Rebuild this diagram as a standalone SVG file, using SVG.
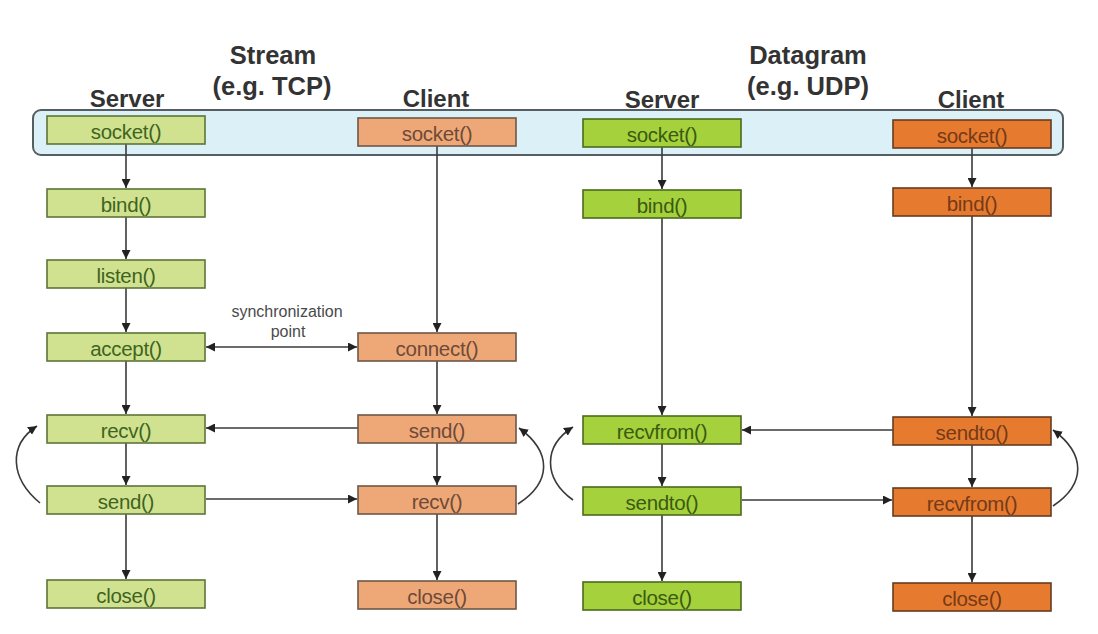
<svg xmlns="http://www.w3.org/2000/svg" width="1098" height="634" viewBox="0 0 1098 634">
<defs>
<style>
.hdr{font-family:"Liberation Sans",Arial,sans-serif;font-weight:bold;font-size:24px;fill:#333;text-anchor:middle}
.ttl{font-family:"Liberation Sans",Arial,sans-serif;font-weight:bold;font-size:25.5px;fill:#333;text-anchor:middle}
.lbl{font-family:"Liberation Sans",Arial,sans-serif;font-size:20.5px;text-anchor:middle;letter-spacing:-0.3px}
.note{font-family:"Liberation Sans",Arial,sans-serif;font-size:16px;fill:#4a4a4a;text-anchor:middle}
.ts rect{fill:#d0e290;stroke:#5d7538;stroke-width:1.6}
.ts text{fill:#3f6420}
.tc rect{fill:#eea877;stroke:#6f5746;stroke-width:1.6}
.tc text{fill:#6e4a38}
.us rect{fill:#a4d13c;stroke:#4c6a1c;stroke-width:1.6}
.us text{fill:#3b5a12}
.uc rect{fill:#e67b30;stroke:#663d22;stroke-width:1.6}
.uc text{fill:#753a18}
.cn path,.cn line{stroke:#3a3a3a;stroke-width:1.6;fill:none}
</style>
<marker id="ah" viewBox="0 0 10 10" refX="10" refY="5" markerWidth="9" markerHeight="9" markerUnits="userSpaceOnUse" orient="auto-start-reverse">
<path d="M0,0 L10,5 L0,10 z" fill="#222"/>
</marker>
</defs>
<rect width="1098" height="634" fill="#ffffff"/>

<g id="titles">
<text class="ttl" x="273" y="64">Stream</text>
<text class="ttl" x="272" y="95">(e.g. TCP)</text>
<text class="ttl" x="808" y="64">Datagram</text>
<text class="ttl" x="808" y="95">(e.g. UDP)</text>
<text class="hdr" x="127" y="107">Server</text>
<text class="hdr" x="436" y="107">Client</text>
<text class="hdr" x="662" y="108">Server</text>
<text class="hdr" x="971" y="108">Client</text>
</g>

<g id="socket-band">
<rect x="33" y="110" width="1030" height="45" rx="8" ry="8" fill="#dcf0f7" stroke="#555e63" stroke-width="2"/>
</g>

<g id="connectors" class="cn">
<line x1="126" y1="144" x2="126" y2="188" marker-end="url(#ah)"/>
<line x1="126" y1="217" x2="126" y2="259" marker-end="url(#ah)"/>
<line x1="126" y1="288" x2="126" y2="332" marker-end="url(#ah)"/>
<line x1="126" y1="361" x2="126" y2="414" marker-end="url(#ah)"/>
<line x1="126" y1="443" x2="126" y2="485" marker-end="url(#ah)"/>
<line x1="126" y1="514" x2="126" y2="579" marker-end="url(#ah)"/>
<line x1="437" y1="146" x2="437" y2="332" marker-end="url(#ah)"/>
<line x1="437" y1="361" x2="437" y2="414" marker-end="url(#ah)"/>
<line x1="437" y1="443" x2="437" y2="485" marker-end="url(#ah)"/>
<line x1="437" y1="514" x2="437" y2="580" marker-end="url(#ah)"/>
<line x1="662" y1="147" x2="662" y2="189" marker-end="url(#ah)"/>
<line x1="662" y1="218" x2="662" y2="415" marker-end="url(#ah)"/>
<line x1="662" y1="444" x2="662" y2="486" marker-end="url(#ah)"/>
<line x1="662" y1="515" x2="662" y2="581" marker-end="url(#ah)"/>
<line x1="972" y1="148" x2="972" y2="187" marker-end="url(#ah)"/>
<line x1="972" y1="216" x2="972" y2="416" marker-end="url(#ah)"/>
<line x1="972" y1="445" x2="972" y2="487" marker-end="url(#ah)"/>
<line x1="972" y1="516" x2="972" y2="582" marker-end="url(#ah)"/>
<line x1="206" y1="347" x2="357" y2="347" marker-start="url(#ah)" marker-end="url(#ah)"/>
<line x1="358" y1="428" x2="206" y2="428" marker-end="url(#ah)"/>
<line x1="206" y1="499" x2="357" y2="499" marker-end="url(#ah)"/>
<line x1="893" y1="430" x2="742" y2="430" marker-end="url(#ah)"/>
<line x1="742" y1="500" x2="892" y2="500" marker-end="url(#ah)"/>
<path d="M40,503 C10,478 8,445 37,426" marker-end="url(#ah)"/>
<path d="M518,504 C552,482 552,452 519,428" marker-end="url(#ah)"/>
<path d="M573,500 C543,478 543,446 573,427" marker-end="url(#ah)"/>
<path d="M1053,506 C1086,484 1086,454 1053,430" marker-end="url(#ah)"/>
</g>

<g id="sync-label">
<text class="note" x="287" y="317">synchronization</text>
<text class="note" x="288" y="337">point</text>
</g>

<g id="tcp-server-socket" class="ts"><rect x="47" y="116" width="158" height="28"/><text class="lbl" x="126" y="139">socket()</text></g>
<g id="tcp-server-bind" class="ts"><rect x="47" y="189" width="158" height="28"/><text class="lbl" x="126" y="212">bind()</text></g>
<g id="tcp-server-listen" class="ts"><rect x="47" y="260" width="158" height="28"/><text class="lbl" x="126" y="283">listen()</text></g>
<g id="tcp-server-accept" class="ts"><rect x="47" y="333" width="158" height="28"/><text class="lbl" x="126" y="356">accept()</text></g>
<g id="tcp-server-recv" class="ts"><rect x="47" y="415" width="158" height="28"/><text class="lbl" x="126" y="438">recv()</text></g>
<g id="tcp-server-send" class="ts"><rect x="47" y="486" width="158" height="28"/><text class="lbl" x="126" y="509">send()</text></g>
<g id="tcp-server-close" class="ts"><rect x="47" y="580" width="158" height="28"/><text class="lbl" x="126" y="603">close()</text></g>

<g id="tcp-client-socket" class="tc"><rect x="358" y="118" width="158" height="28"/><text class="lbl" x="437" y="141">socket()</text></g>
<g id="tcp-client-connect" class="tc"><rect x="358" y="333" width="158" height="28"/><text class="lbl" x="437" y="356">connect()</text></g>
<g id="tcp-client-send" class="tc"><rect x="358" y="415" width="158" height="28"/><text class="lbl" x="437" y="438">send()</text></g>
<g id="tcp-client-recv" class="tc"><rect x="358" y="486" width="158" height="28"/><text class="lbl" x="437" y="509">recv()</text></g>
<g id="tcp-client-close" class="tc"><rect x="358" y="581" width="158" height="28"/><text class="lbl" x="437" y="604">close()</text></g>

<g id="udp-server-socket" class="us"><rect x="583" y="119" width="158" height="28"/><text class="lbl" x="662" y="142">socket()</text></g>
<g id="udp-server-bind" class="us"><rect x="583" y="190" width="158" height="28"/><text class="lbl" x="662" y="213">bind()</text></g>
<g id="udp-server-recvfrom" class="us"><rect x="583" y="416" width="158" height="28"/><text class="lbl" x="662" y="439">recvfrom()</text></g>
<g id="udp-server-sendto" class="us"><rect x="583" y="487" width="158" height="28"/><text class="lbl" x="662" y="510">sendto()</text></g>
<g id="udp-server-close" class="us"><rect x="583" y="582" width="158" height="28"/><text class="lbl" x="662" y="605">close()</text></g>

<g id="udp-client-socket" class="uc"><rect x="893" y="120" width="158" height="28"/><text class="lbl" x="972" y="143">socket()</text></g>
<g id="udp-client-bind" class="uc"><rect x="893" y="188" width="158" height="28"/><text class="lbl" x="972" y="211">bind()</text></g>
<g id="udp-client-sendto" class="uc"><rect x="893" y="417" width="158" height="28"/><text class="lbl" x="972" y="440">sendto()</text></g>
<g id="udp-client-recvfrom" class="uc"><rect x="893" y="488" width="158" height="28"/><text class="lbl" x="972" y="511">recvfrom()</text></g>
<g id="udp-client-close" class="uc"><rect x="893" y="583" width="158" height="28"/><text class="lbl" x="972" y="606">close()</text></g>
</svg>
